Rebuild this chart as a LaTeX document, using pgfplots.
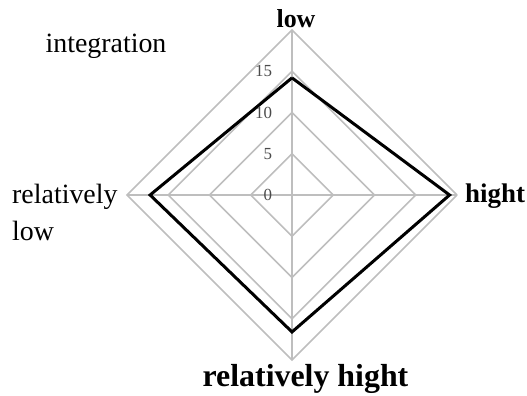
\documentclass[border=0pt]{standalone}
\usepackage{pgfplots}
\pgfplotsset{compat=1.18}
\usepackage{fontspec}
\setmainfont{Liberation Serif}
\definecolor{gridc}{RGB}{190,190,190}
\definecolor{tickc}{RGB}{75,75,75}

\begin{document}
\begin{tikzpicture}[
    ticklab/.style={anchor=east, text=tickc, font=\fontsize{17}{17}\selectfont, inner sep=0pt},
  ]
  % page = 527 x 396 px, radar centre at pixel (292,195)
  \useasboundingbox (-292bp,-201bp) rectangle (235bp,195bp);
  \begin{axis}[
      x=8.25bp, y=8.25bp,
      anchor=origin, at={(0,0)},
      xmin=-20, xmax=20, ymin=-20, ymax=20,
      hide axis,
      clip=false,
    ]
    % rings at 5, 10, 15, 20
    \addplot[gridc, line width=1.6bp] coordinates {(5,0) (0,5) (-5,0) (0,-5) (5,0)};
    \addplot[gridc, line width=1.6bp] coordinates {(10,0) (0,10) (-10,0) (0,-10) (10,0)};
    \addplot[gridc, line width=1.6bp] coordinates {(15,0) (0,15) (-15,0) (0,-15) (15,0)};
    \addplot[gridc, line width=1.6bp] coordinates {(20,0) (0,20) (-20,0) (0,-20) (20,0)};
    % spokes
    \addplot[gridc, line width=1.6bp] coordinates {(-20,0) (20,0)};
    \addplot[gridc, line width=1.6bp] coordinates {(0,-20) (0,20)};
    % series: low (top), hight (right), relatively hight (bottom), relatively low (left)
    \addplot[black, line width=3bp, line join=miter] coordinates {
      (0,14.2) (19.1,0) (0,-16.6) (-17.2,0) (0,14.2)
    };
    % radial tick labels
    \node[ticklab] at (axis cs:-2.4,0) {0};
    \node[ticklab] at (axis cs:-2.4,5) {5};
    \node[ticklab] at (axis cs:-2.4,10) {10};
    \node[ticklab] at (axis cs:-2.4,15) {15};
  \end{axis}
  \node[anchor=base, inner sep=0pt, font=\fontsize{26}{30}\selectfont\bfseries] at (4bp,167bp) {low};
  \node[anchor=base west, inner sep=0pt, font=\fontsize{27}{30}\selectfont\bfseries] at (173bp,-7bp) {hight};
  \node[anchor=base, inner sep=0pt, font=\fontsize{32}{30}\selectfont\bfseries] at (13.5bp,-191bp) {relatively hight};
  \node[anchor=base west, inner sep=0pt, font=\fontsize{28}{30}\selectfont] at (-280bp,-8bp) {relatively};
  \node[anchor=base west, inner sep=0pt, font=\fontsize{28}{30}\selectfont] at (-280bp,-45bp) {low};
  \node[anchor=base, inner sep=0pt, font=\fontsize{28}{30}\selectfont] at (-186bp,142bp) {integration};
\end{tikzpicture}
\end{document}
